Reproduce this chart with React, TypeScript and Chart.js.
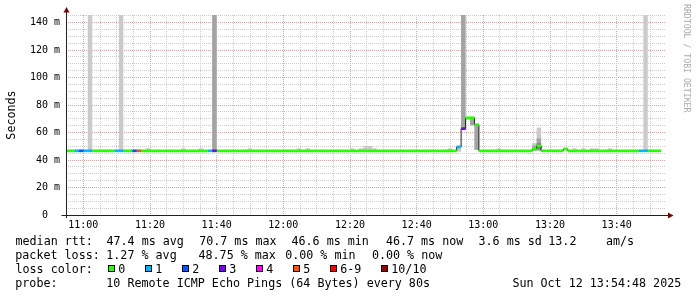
import React, { useEffect, useRef } from 'react';
import { Chart, registerables } from 'chart.js';

Chart.register(...registerables);

// ---------------- data ----------------
// x axis: minutes relative to 11:00, one probe step = 80 s
const STEP_MIN = 80 / 60;
const X_MIN = -5.2; // 10:54:48
const X_MAX = 174.8; // 13:54:48
const Y_MAX = 145.5;

const timeTickLabels = ['11:00', '11:20', '11:40', '12:00', '12:20', '12:40', '13:00', '13:20', '13:40'];
const yTickValues = [0, 20, 40, 60, 80, 100, 120, 140];

// median rtt runs (start = index of 80-s step counted from 11:00), values in ms, lost pings of 10
const medianRunStart = [-4, -2, -1, 0, 2, 7, 9, 11, 12, 13, 28, 29, 30, 84, 85, 86, 88, 89, 101, 102, 103, 108, 109, 125, 127];
const medianRunValue = [46.7, 46.7, 46.7, 46.7, 46.7, 46.7, 46.7, 46.7, 46.7, 46.7, 46.7, 46.7, 46.7, 49.5, 62.8, 70.7, 65.6, 46.7, 48.0, 50.3, 46.7, 48.0, 46.7, 46.7, 46.7];
const medianRunLoss = [0, 1, 2, 1, 0, 1, 0, 2, 5, 0, 1, 3, 0, 1, 3, 0, 0, 0, 0, 0, 0, 0, 0, 1, 0];
const lastStepEnd = 130;

// smoke: [step, lowest ms, highest ms]
const smokeOuter = [
  [1, 46.0, 150], [8, 46.0, 150], [14, 46.2, 48.5], [22, 46.2, 48.5], [26, 46.2, 48.5],
  [29, 46.0, 150], [37, 46.2, 48.5], [48, 46.2, 48.5], [50, 46.2, 48.5], [60, 46.2, 48.5],
  [62, 46.2, 48.5], [63, 46.2, 50.2], [64, 46.2, 50.2], [65, 46.2, 48.5], [82, 46.2, 48.5],
  [84, 46.0, 50.5], [85, 62.0, 150], [87, 65.3, 71.5], [88, 47.3, 66.5], [93, 46.2, 48.5],
  [101, 46.4, 52.3], [102, 46.5, 63.6], [110, 46.2, 48.5], [112, 46.2, 48.5],
  [114, 46.2, 48.5], [115, 46.2, 48.5], [118, 46.2, 48.5], [126, 46.0, 150],
];
const smokeMiddle = [[29, 46.5, 150], [85, 62.3, 150], [87, 65.3, 70.7], [88, 47.4, 65.6], [101, 47.0, 50.5], [102, 47.0, 55.8]];
const smokeInner = [[102, 48.0, 52.2]];

const lossLabels = ['0', '1', '2', '3', '4', '5', '6-9', '10/10'];
const lossColors = ['#26ff00', '#00b8ff', '#0059ff', '#7e00ff', '#ff00ff', '#ff5500', '#ff0000', '#a00000'];

const rttStats = ['47.4 ms avg', '70.7 ms max', '46.6 ms min', '46.7 ms now', '3.6 ms sd'];
const rttRate = ['13.2', 'am/s'];
const lossStats = ['1.27 % avg', '48.75 % max', '0.00 % min', '0.00 % now'];
const probeText = '10 Remote ICMP Echo Pings (64 Bytes) every 80s';
const stampText = 'Sun Oct 12 13:54:48 2025';

// ---------------- layout / style ----------------
const W = 697;
const H = 297;
const FONT = "'DejaVu Sans Mono', monospace";
const PLOT_LEFT = 66;
const PLOT_RIGHT = 666;
const PLOT_TOP = 15;
const PLOT_BOTTOM = 215;
const STEP_PX = ((PLOT_RIGHT - PLOT_LEFT) * STEP_MIN) / (X_MAX - X_MIN);
const MINOR = '#cdcdcd';
const MAJOR = '#eb9f9f';
const SHADES = ['#cacaca', '#a4a4a4', '#7e7e7e'];

const lossColorFor = (n: number) => (n <= 5 ? lossColors[n] : n < 10 ? lossColors[6] : lossColors[7]);
const tickMinutes = (lab: string) => {
  const [h, m] = lab.split(':').map(Number);
  return h * 60 + m - 660;
};

const gridPlugin = {
  id: 'rrdGrid',
  beforeDatasetsDraw(chart: any) {
    const { ctx, chartArea: ca, scales } = chart;
    const xs = scales.x;
    const ys = scales.y;
    ctx.save();
    ctx.lineWidth = 1;
    ctx.setLineDash([1, 1]);
    for (let m = Math.ceil(X_MIN / 5) * 5; m <= X_MAX; m += 5) {
      const px = Math.floor(xs.getPixelForValue(m)) + 0.5;
      if (px <= ca.left + 1 || px > ca.right) continue;
      ctx.strokeStyle = m % 20 === 0 ? MAJOR : MINOR;
      ctx.beginPath();
      ctx.moveTo(px, ca.top);
      ctx.lineTo(px, ca.bottom);
      ctx.stroke();
    }
    for (let v = 5; v < Y_MAX; v += 5) {
      const py = Math.floor(ys.getPixelForValue(v)) + 0.5;
      ctx.strokeStyle = v % 20 === 0 ? MAJOR : MINOR;
      ctx.beginPath();
      ctx.moveTo(ca.left, py);
      ctx.lineTo(ca.right, py);
      ctx.stroke();
    }
    ctx.restore();
  },
  afterDatasetsDraw(chart: any) {
    const { ctx, chartArea: ca } = chart;
    const ax = Math.floor(ca.left) + 0.5;
    const ay = Math.floor(ca.bottom) + 0.5;
    ctx.save();
    ctx.setLineDash([]);
    ctx.lineWidth = 1;
    ctx.strokeStyle = '#202020';
    ctx.beginPath();
    ctx.moveTo(ax, ay + 2.5);
    ctx.lineTo(ax, ca.top - 4);
    ctx.stroke();
    ctx.beginPath();
    ctx.moveTo(ax - 5, ay);
    ctx.lineTo(ca.right + 3, ay);
    ctx.stroke();
    ctx.fillStyle = '#7f0000';
    ctx.beginPath();
    ctx.moveTo(ax, ca.top - 8);
    ctx.lineTo(ax - 3, ca.top - 2.5);
    ctx.lineTo(ax + 3, ca.top - 2.5);
    ctx.closePath();
    ctx.fill();
    ctx.beginPath();
    ctx.moveTo(ca.right + 7.5, ay);
    ctx.lineTo(ca.right + 2, ay - 3);
    ctx.lineTo(ca.right + 2, ay + 3);
    ctx.closePath();
    ctx.fill();
    ctx.restore();
  },
};

function smokeDataset(rows: number[][], shade: number) {
  return {
    type: 'bar',
    data: rows.map((r) => ({ x: (r[0] + 0.5) * STEP_MIN, y: [r[1], r[2]] })),
    backgroundColor: SHADES[shade],
    borderWidth: 0,
    barThickness: STEP_PX,
    grouped: false,
    inflateAmount: 0,
    order: 30 - shade,
    clip: 0,
  };
}

function buildConfig(): any {
  const runEnd = (i: number) => (i + 1 < medianRunStart.length ? medianRunStart[i + 1] : lastStepEnd);
  const runDatasets = medianRunStart.map((s, i) => ({
    type: 'line',
    data: [
      { x: s * STEP_MIN, y: medianRunValue[i] },
      { x: runEnd(i) * STEP_MIN, y: medianRunValue[i] },
    ],
    borderColor: lossColorFor(medianRunLoss[i]),
    borderWidth: 2.75,
    borderCapStyle: 'butt',
    pointRadius: 0,
    fill: false,
    tension: 0,
    order: 10,
    clip: 0,
  }));
  const blackLine = {
    type: 'line',
    data: [
      ...medianRunStart.map((s, i) => ({ x: s * STEP_MIN, y: medianRunValue[i] })),
      { x: lastStepEnd * STEP_MIN, y: medianRunValue[medianRunValue.length - 1] },
    ],
    stepped: true,
    borderColor: '#202020',
    borderWidth: 1,
    pointRadius: 0,
    fill: false,
    order: 20,
    clip: 0,
  };
  return {
    type: 'line',
    data: {
      datasets: [
        smokeDataset(smokeOuter, 0),
        smokeDataset(smokeMiddle, 1),
        smokeDataset(smokeInner, 2),
        blackLine,
        ...runDatasets,
      ],
    },
    options: {
      responsive: false,
      animation: false,
      devicePixelRatio: 1,
      events: [],
      layout: { padding: { left: 0, right: W - PLOT_RIGHT, top: PLOT_TOP, bottom: 0 } },
      plugins: { legend: { display: false }, tooltip: { enabled: false }, title: { display: false } },
      scales: {
        x: {
          type: 'linear',
          min: X_MIN,
          max: X_MAX,
          offset: false,
          afterBuildTicks: (s: any) => {
            s.ticks = timeTickLabels.map((l) => ({ value: tickMinutes(l) }));
          },
          afterFit: (s: any) => {
            s.height = H - PLOT_BOTTOM;
          },
          ticks: {
            autoSkip: false,
            maxRotation: 0,
            padding: 4,
            color: '#000',
            font: { family: FONT, size: 10 },
            callback: (v: number) => timeTickLabels[timeTickLabels.findIndex((l) => tickMinutes(l) === v)] ?? '',
          },
          grid: { display: false, drawTicks: false },
          border: { display: false },
        },
        y: {
          type: 'linear',
          min: 0,
          max: Y_MAX,
          afterBuildTicks: (s: any) => {
            s.ticks = yTickValues.map((v) => ({ value: v }));
          },
          afterFit: (s: any) => {
            s.width = PLOT_LEFT;
          },
          ticks: {
            padding: 6,
            color: '#000',
            font: { family: FONT, size: 10 },
            callback: (v: number) => (v === 0 ? '0  ' : `${v} m`),
          },
          grid: { display: false, drawTicks: false },
          border: { display: false },
          title: {
            display: true,
            text: 'Seconds',
            color: '#000',
            font: { family: FONT, size: 11.7 },
            padding: { top: 4.5, bottom: 0 },
          },
        },
      },
    },
    plugins: [gridPlugin],
  };
}

const txt: React.CSSProperties = {
  position: 'absolute',
  fontFamily: FONT,
  fontSize: '11.7px',
  lineHeight: '14px',
  whiteSpace: 'pre',
  color: '#000',
  margin: 0,
};

const LINE_TOPS = [233.7, 247.7, 261.7, 275.7];
const RTT_X = [106.5, 199.2, 291.5, 385.9, 478.5];
const RATE_X = [548.3, 605.9];
const LOSS_X = [106.3, 198.5, 285.2, 371.9];

export default function App() {
  const ref = useRef<HTMLCanvasElement>(null);
  useEffect(() => {
    const chart = new Chart(ref.current as HTMLCanvasElement, buildConfig());
    return () => chart.destroy();
  }, []);

  const boxes: React.ReactNode[] = [];
  let bx = 108;
  lossLabels.forEach((lab, i) => {
    boxes.push(
      <div
        key={'b' + i}
        style={{
          position: 'absolute',
          left: bx,
          top: 265,
          width: 7,
          height: 7,
          boxSizing: 'border-box',
          border: '1px solid #000',
          background: lossColors[i],
        }}
      />
    );
    boxes.push(
      <div key={'l' + i} style={{ ...txt, left: bx + 10.3, top: LINE_TOPS[2] }}>
        {lab}
      </div>
    );
    bx += 30 + 7 * lab.length;
  });

  return (
    <div style={{ position: 'fixed', left: 0, top: 0, width: W, height: H, background: '#fff', overflow: 'hidden' }}>
      <canvas ref={ref} width={W} height={H} style={{ position: 'absolute', left: 0, top: 0, width: W, height: H }} />
      <div style={{ ...txt, left: 15.5, top: LINE_TOPS[0] }}>median rtt:</div>
      {rttStats.map((s, i) => (
        <div key={'r' + i} style={{ ...txt, left: RTT_X[i], top: LINE_TOPS[0] }}>
          {s}
        </div>
      ))}
      {rttRate.map((s, i) => (
        <div key={'a' + i} style={{ ...txt, left: RATE_X[i], top: LINE_TOPS[0] }}>
          {s}
        </div>
      ))}
      <div style={{ ...txt, left: 15.3, top: LINE_TOPS[1] }}>packet loss:</div>
      {lossStats.map((s, i) => (
        <div key={'p' + i} style={{ ...txt, left: LOSS_X[i], top: LINE_TOPS[1] }}>
          {s}
        </div>
      ))}
      <div style={{ ...txt, left: 15.5, top: LINE_TOPS[2] }}>loss color:</div>
      {boxes}
      <div style={{ ...txt, left: 15.3, top: LINE_TOPS[3] }}>probe:</div>
      <div style={{ ...txt, left: 106.3, top: LINE_TOPS[3] }}>{probeText}</div>
      <div style={{ ...txt, left: 512.4, top: LINE_TOPS[3] }}>{stampText}</div>
      <div
        style={{
          position: 'absolute',
          left: 682,
          top: 4,
          width: 10,
          writingMode: 'vertical-rl',
          fontFamily: FONT,
          fontSize: '8.2px',
          lineHeight: '10px',
          whiteSpace: 'pre',
          color: '#aaaaaa',
        }}
      >
        RRDTOOL / TOBI OETIKER
      </div>
    </div>
  );
}
